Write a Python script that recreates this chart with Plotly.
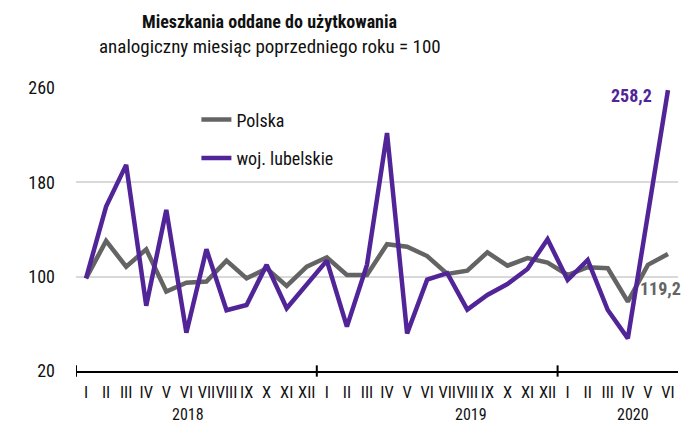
import plotly.graph_objects as go

# ---- data ----
years = ["2018", "2019", "2020"]
months_per_year = [12, 12, 6]
month_names = ["I", "II", "III", "IV", "V", "VI", "VII", "VIII", "IX", "X", "XI", "XII"]
tick_labels = [m for n in months_per_year for m in month_names[:n]]

polska = [98.6, 130.3, 108.5, 123.2, 87.3, 94.9, 95.8, 113.6, 98.6, 107.0, 92.1, 108.5,
          116.4, 101.4, 101.4, 127.5, 125.4, 117.5, 102.3, 105.1, 120.6, 109.3, 115.7, 111.9,
          101.4, 108.0, 107.1, 78.8, 110.0, 119.2]
lubelskie = [98.6, 159.4, 194.8, 75.4, 156.6, 52.5, 123.2, 71.5, 76.0, 110.0, 73.2, 93.0,
             113.6, 57.6, 110.0, 221.8, 51.8, 97.5, 103.0, 72.0, 84.5, 93.8, 106.5, 131.7,
             97.2, 114.2, 71.7, 47.7, 152.4, 258.2]
y_ticks = [20, 100, 180, 260]
year_label_pos = [5.1, 19.2, 27.25]

# ---- style ----
FONT = "Roboto Condensed, Roboto, sans-serif"
GRAY = "#646464"
PURPLE = "#512598"

x = list(range(len(tick_labels)))
fig = go.Figure()
fig.add_trace(go.Scatter(x=x, y=polska, mode="lines", name="Polska", legendgroup="a",
                         line=dict(color=GRAY, width=4.5)))
fig.add_trace(go.Scatter(x=x, y=lubelskie, mode="lines", name="woj. lubelskie", legendgroup="b",
                         line=dict(color=PURPLE, width=4.5)))

shapes = []
b = -0.5
for n in months_per_year[:-1]:
    shapes.append(dict(type="line", xref="x", yref="paper", x0=b, x1=b, y0=-0.02, y1=0.02,
                       line=dict(color="black", width=2)))
    b += n
shapes.append(dict(type="line", xref="x", yref="paper", x0=b, x1=b, y0=-0.02, y1=0.02,
                   line=dict(color="black", width=2)))

annotations = []
for yr, pos in zip(years, year_label_pos):
    annotations.append(dict(text=yr, x=pos, xref="x", y=0, yref="paper", yanchor="middle",
                            yshift=-43, borderpad=0, showarrow=False,
                            font=dict(size=16, color="#111111")))

fmt = lambda v: f"{v:.1f}".replace(".", ",")
annotations.append(dict(text=f"<b>{fmt(lubelskie[-1])}</b>", x=x[-1], y=lubelskie[-1], xref="x", yref="y",
                        xanchor="right", yanchor="middle", xshift=-14, yshift=-5, showarrow=False,
                        font=dict(size=18, color=PURPLE)))
annotations.append(dict(text=f"<b>{fmt(polska[-1])}</b>", x=x[-1], y=polska[-1], xref="x", yref="y",
                        xanchor="left", yanchor="middle", xshift=-30, yshift=-34, showarrow=False,
                        font=dict(size=18, color=GRAY)))
annotations.append(dict(text="<b>Mieszkania oddane do użytkowania</b>", x=0.322, xref="paper",
                        y=1.235, yref="paper", xanchor="center", yanchor="middle", showarrow=False,
                        font=dict(size=18, color="#111111")))
annotations.append(dict(text="analogiczny miesiąc poprzedniego roku = 100", x=0.322, xref="paper",
                        y=1.145, yref="paper", xanchor="center", yanchor="middle", showarrow=False,
                        font=dict(size=19, color="#111111")))

fig.update_layout(
    width=682, height=423,
    margin=dict(l=76, r=4, t=88, b=52),
    paper_bgcolor="white", plot_bgcolor="white",
    font=dict(family=FONT, size=17, color="#111111"),
    showlegend=True,
    legend=dict(x=0.2, y=0.953, xanchor="left", yanchor="top", tracegroupgap=12,
                font=dict(size=18, color="#111111"), bgcolor="rgba(0,0,0,0)"),
    shapes=shapes,
    annotations=annotations,
)
fig.update_xaxes(range=[-0.5, len(x) - 0.5], tickvals=x, ticktext=tick_labels, showgrid=False,
                 showline=True, linecolor="black", linewidth=2, ticks="", ticklabelstandoff=5,
                 tickangle=0, tickfont=dict(size=16.5), zeroline=False)
fig.update_yaxes(range=[20, 260], tickvals=y_ticks, showgrid=True, gridcolor="#d9d9d9", gridwidth=1.5,
                 zeroline=False, ticks="", ticklabelstandoff=20, tickfont=dict(size=18))

fig.write_html("out.html", config={"displayModeBar": False},
               post_script="document.body.style.margin='0';")
